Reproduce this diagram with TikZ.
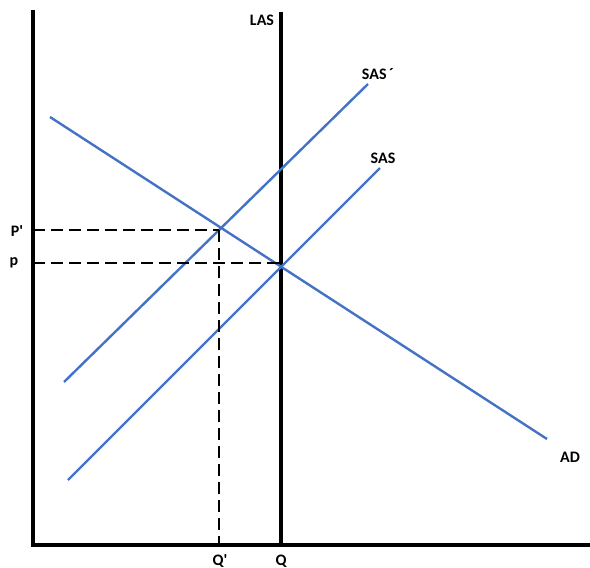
\documentclass[tikz,border=0pt]{standalone}
\usepackage{fontspec}
\setmainfont{Carlito}
\definecolor{curveblue}{HTML}{4472C4}
\begin{document}
\begin{tikzpicture}[x={(1pt,0)},y={(0,-1pt)},
  axisline/.style={line width=3.5pt,black},
  curve/.style={line width=2.4pt,curveblue},
  guide/.style={line width=2.2pt,black,dash pattern=on 12pt off 6pt},
  lbl/.style={font=\bfseries\fontsize{16}{18}\selectfont,inner sep=1pt}]
\useasboundingbox (0,0) rectangle (590,568);
% axes
\coordinate (O) at (33,545);
\coordinate (ytop) at (33,10);
\coordinate (xend) at (590,545);
\draw[axisline] (ytop) -- (O) -- (xend);
% LAS
\coordinate (lastop) at (281,12);
\coordinate (lasbot) at (281,545);
\draw[axisline] (lastop) -- (lasbot);
% curves
\coordinate (ad1) at (50,117);
\coordinate (ad2) at (547,439);
\coordinate (sas1) at (68,480);
\coordinate (sas2) at (380,168);
\coordinate (sasp1) at (64,382);
\coordinate (sasp2) at (368,84);
\draw[curve] (ad1) -- (ad2);
\draw[curve] (sas1) -- (sas2);
\draw[curve] (sasp1) -- (sasp2);
% guide points
\coordinate (Ep) at (219,230);
\coordinate (E) at (279,263);
\draw[guide] (Ep -| O) -- (Ep);
\draw[guide] (Ep) -- (Ep |- O);
\draw[guide] (E -| O) -- (E);
% labels
\node[lbl] (lLAS) at (262,20) {LAS};
\node[lbl] (lSASp) at (378,74) {SAS\,´};
\node[lbl] (lSAS) at (383,158) {SAS};
\node[lbl] (lAD) at (570,457) {AD};
\node[lbl] (lPp) at (17,231) {P\textquotesingle};
\node[lbl] (lp) at (14,263) {p};
\node[lbl] (lQp) at (220,561) {Q\textquotesingle};
\node[lbl] (lQ) at (281,561) {Q};
\end{tikzpicture}
\end{document}
